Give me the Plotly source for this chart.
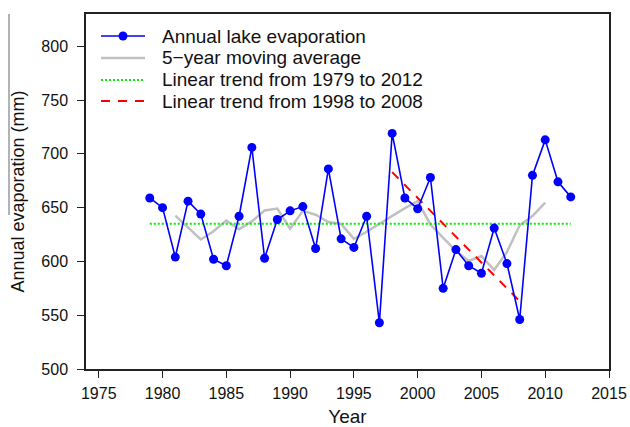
import plotly.graph_objects as go

# ---- data ----
years = [1979, 1980, 1981, 1982, 1983, 1984, 1985, 1986, 1987, 1988, 1989, 1990,
         1991, 1992, 1993, 1994, 1995, 1996, 1997, 1998, 1999, 2000, 2001, 2002,
         2003, 2004, 2005, 2006, 2007, 2008, 2009, 2010, 2011, 2012]
evaporation = [659, 650, 604, 656, 644, 602, 596, 642, 706, 603, 639, 647,
               651, 612, 686, 621, 613, 642, 543, 719, 659, 649, 678, 575,
               611, 596, 589, 631, 598, 546, 680, 713, 674, 660]
ma_years = [1981, 1982, 1983, 1984, 1985, 1986, 1987, 1988, 1989, 1990, 1991, 1992,
            1993, 1994, 1995, 1996, 1997, 1998, 1999, 2000, 2001, 2002, 2003, 2004,
            2005, 2006, 2007, 2008, 2009, 2010]
moving_avg = [642.6, 631.2, 620.4, 628.0, 638.0, 629.8, 637.2, 647.4, 649.2, 630.4,
              647.0, 643.4, 636.6, 634.8, 621.0, 627.6, 635.2, 642.4, 649.6, 656.0,
              634.4, 621.8, 609.8, 600.4, 605.0, 592.0, 608.8, 633.6, 642.2, 654.6]
trend_all_years = [1979, 2012]
trend_all_vals = [635, 635]
trend_sub_years = [1998, 2008]
trend_sub_vals = [683, 563]

legend_labels = ["Annual lake evaporation", "5\u2212year moving average",
                 "Linear trend from 1979 to 2012", "Linear trend from 1998 to 2008"]
x_ticks = [1975, 1980, 1985, 1990, 1995, 2000, 2005, 2010, 2015]
y_ticks = [500, 550, 600, 650, 700, 750, 800]

# ---- layout geometry (pixels) ----
W, H = 630, 427
ML, MR, MT, MB = 86, 21, 14, 58
PW, PH = W - ML - MR, H - MT - MB

def px(x):
    return (x - ML) / PW

def py(y):
    return (H - MB - y) / PH

FONT = "Liberation Sans, Arial, sans-serif"
BLUE = "#0000ff"
GRAY = "#c0c0c0"
GREEN = "#00ee00"
RED = "#ff0000"
AX = "#222222"

fig = go.Figure()
fig.add_trace(go.Scatter(x=ma_years, y=moving_avg, mode="lines",
                         line=dict(color=GRAY, width=2.5), name=legend_labels[1],
                         showlegend=False))
fig.add_trace(go.Scatter(x=trend_all_years, y=trend_all_vals, mode="lines",
                         line=dict(color=GREEN, width=2, dash="2px,2px"),
                         name=legend_labels[2], showlegend=False))
fig.add_trace(go.Scatter(x=trend_sub_years, y=trend_sub_vals, mode="lines",
                         line=dict(color=RED, width=2, dash="9px,8px"),
                         name=legend_labels[3], showlegend=False))
fig.add_trace(go.Scatter(x=years, y=evaporation, mode="lines+markers",
                         line=dict(color=BLUE, width=1.6),
                         marker=dict(color=BLUE, size=9),
                         name=legend_labels[0], showlegend=False))

# ---- manual legend ----
rows_y = [36, 58, 80, 101]
styles = [dict(color=BLUE, width=1.6, dash="solid"),
          dict(color=GRAY, width=2.5, dash="solid"),
          dict(color=GREEN, width=2, dash="2px,2px"),
          dict(color=RED, width=2, dash="9px,8px")]
shapes = []
annotations = []
for ry, st, lab in zip(rows_y, styles, legend_labels):
    shapes.append(dict(type="line", xref="paper", yref="paper",
                       x0=px(101), x1=px(145), y0=py(ry), y1=py(ry),
                       line=st))
    annotations.append(dict(xref="paper", yref="paper", x=px(160), y=py(ry),
                            xanchor="left", yanchor="middle", showarrow=False,
                            text=lab, font=dict(family=FONT, size=19, color="#111")))
shapes.append(dict(type="circle", xref="paper", yref="paper",
                   x0=px(123 - 4.5), x1=px(123 + 4.5), y0=py(36 - 4.5), y1=py(36 + 4.5),
                   fillcolor=BLUE, line=dict(color=BLUE, width=0)))
# overline artifact next to the y title
shapes.append(dict(type="line", xref="paper", yref="paper",
                   x0=px(9), x1=px(9), y0=py(14), y1=py(215),
                   line=dict(color="#666666", width=1)))

fig.update_layout(
    width=W, height=H,
    margin=dict(l=ML, r=MR, t=MT, b=MB, pad=0, autoexpand=False),
    paper_bgcolor="white", plot_bgcolor="white",
    font=dict(family=FONT, size=16, color="#111"),
    shapes=shapes, annotations=annotations,
    showlegend=False,
    xaxis=dict(range=[1974, 2015], tickvals=x_ticks, showgrid=False, zeroline=False,
               showline=True, linecolor=AX, linewidth=1.5, mirror=True,
               ticks="outside", ticklen=7, tickwidth=1.2, tickcolor=AX,
               tickfont=dict(size=16), ticklabelstandoff=2, automargin=False,
               title=dict(text="Year", font=dict(size=19), standoff=14)),
    yaxis=dict(range=[500, 830], tickvals=y_ticks, showgrid=False, zeroline=False,
               showline=True, linecolor=AX, linewidth=1.5, mirror=True,
               ticks="outside", ticklen=7, tickwidth=1.2, tickcolor=AX,
               tickfont=dict(size=16), ticklabelstandoff=6, automargin=False,
               title=dict(text="Annual evaporation (mm)", font=dict(size=18), standoff=12)),
)

fig.write_html("out.html")
